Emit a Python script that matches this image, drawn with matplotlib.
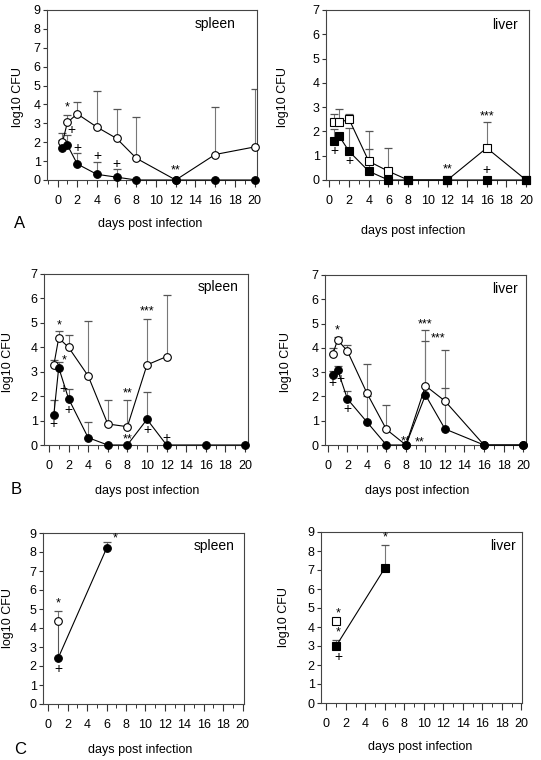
import numpy as np
import matplotlib.pyplot as plt
from matplotlib.ticker import MultipleLocator

plt.rcParams['font.family'] = ['Liberation Sans', 'DejaVu Sans']

W, H = 541, 760

# ---- data (log10 CFU) ----
days = [0.5, 1, 2, 4, 6, 8, 12, 16, 20]

# A spleen
a_spl_open = [2.0, 3.05, 3.5, 2.8, 2.2, 1.15, 0, 1.35, 1.75]
a_spl_open_top = [2.5, 3.45, 4.15, 4.7, 3.75, 3.35, None, 3.85, 4.8]
a_spl_fill = [1.7, 1.85, 0.85, 0.3, 0.15, 0, 0, 0, 0]
a_spl_fill_top = [2.1, 2.4, 1.43, 0.95, 0.6, None, None, None, None]

# A liver
a_liv_open = [2.4, 2.37, 2.5, 0.77, 0.36, 0, 0, 1.32, 0]
a_liv_open_top = [2.7, 2.93, 2.7, 2.0, 1.3, None, None, 2.4, None]
a_liv_fill = [1.6, 1.8, 1.18, 0.36, 0, 0, 0, 0, 0]
a_liv_fill_top = [2.1, None, 2.13, 1.28, None, None, None, None, None]

# B
days_b_open = [0.5, 1, 2, 4, 6, 8, 10, 12]
days_b = [0.5, 1, 2, 4, 6, 8, 10, 12, 16, 20]
b_spl_open = [3.27, 4.38, 4.0, 2.83, 0.86, 0.75, 3.28, 3.62]
b_spl_open_top = [3.5, 4.68, 4.5, 5.07, 1.83, 1.85, 5.17, 6.12]
b_spl_fill = [1.23, 3.17, 1.9, 0.3, 0, 0, 1.05, 0, 0, 0]
b_spl_fill_top = [1.85, 3.4, 2.3, 0.95, None, None, 2.15, None, None, None]

days_bl_open = [0.5, 1, 2, 4, 6, 8, 10, 12, 16, 20]
b_liv_open = [3.73, 4.33, 3.87, 2.14, 0.64, 0, 2.44, 1.81, 0, 0]
b_liv_open_top = [4.0, 4.45, 4.1, 3.35, 1.63, None, 4.73, 3.93, None, None]
b_liv_fill = [2.9, 3.1, 1.9, 0.95, 0, 0, 2.06, 0.66, 0, 0]
b_liv_fill_top = [3.05, 3.25, 2.22, 2.0, None, None, 4.3, 2.35, None, None]

# C
days_c_open = [1]
days_c = [1, 6]
c_spl_open = [4.35]
c_spl_open_top = [4.9]
c_spl_fill = [2.4, 8.2]
c_spl_fill_top = [None, 8.55]

c_liv_open = [4.3]
c_liv_fill = [3.0, 7.1]
c_liv_fill_top = [3.3, 8.33]

# significance marks (day, log10 CFU, mark)
a_spl_marks = [(1, 3.85, '*'), (1.45, 2.65, '+'), (2, 1.7, '+'), (4, 1.25, '+'),
               (6, 0.85, '+'), (12, 0.5, '**')]
a_liv_marks = [(0.5, 1.2, '+'), (2, 0.8, '+'), (16, 0.4, '+'), (12, 0.45, '**'),
               (16, 2.6, '***')]
b_spl_marks = [(1, 4.9, '*'), (1.55, 3.45, '*'), (0.5, 0.85, '+'), (1.5, 2.3, '+'),
               (2, 1.45, '+'), (10, 0.6, '+'), (12, 0.3, '+'), (8, 2.1, '**'),
               (8, 0.22, '**'), (10, 5.45, '***')]
b_liv_marks = [(1, 4.7, '*'), (0.5, 2.55, '+'), (1.3, 2.72, '+'), (2, 1.5, '+'),
               (8, 0.15, '**'), (9.4, 0.1, '**'), (10, 4.98, '***'), (11.3, 4.4, '***')]
c_spl_marks = [(1, 5.3, '*'), (1, 1.85, '+'), (6.9, 8.7, '*')]
c_liv_marks = [(1.2, 4.7, '*'), (1.2, 3.7, '*'), (1.2, 2.4, '+'), (6, 8.7, '*')]

fig = plt.figure(figsize=(W / 100, H / 100), dpi=100)


def add_ax(l, t, r, b):
    return fig.add_axes([l / W, 1 - b / H, (r - l) / W, (b - t) / H])


def ftext(x, y, s, **kw):
    fig.text(x / W, 1 - y / H, s, **kw)


def errs(ax, x, top, y):
    xs = [xi for xi, ti in zip(x, top) if ti is not None]
    ys = [yi for yi, ti in zip(y, top) if ti is not None]
    ts = [ti for ti in top if ti is not None]
    ax.vlines(xs, ys, ts, color='#777777', lw=0.8, zorder=2)
    ax.plot(xs, ts, ls='none', marker='_', ms=6, mew=0.9, color='#555555', zorder=2)


def series(ax, x, y, marker, filled):
    ax.plot(x, y, color='black', lw=0.8, marker=marker, ms=5.5 if marker == 'o' else 5.2,
            mfc='black' if filled else 'white', mec='black', mew=0.8,
            clip_on=False, zorder=4 if filled else 3)


def style(ax, ymax, xlim, organ, tx, ty):
    ax.set_xlim(*xlim)
    ax.set_ylim(0, ymax)
    ax.xaxis.set_major_locator(MultipleLocator(2))
    ax.xaxis.set_minor_locator(MultipleLocator(1))
    ax.yaxis.set_major_locator(MultipleLocator(1))
    ax.tick_params(axis='x', which='major', length=5, width=0.8, pad=6, labelsize=9,
                   colors='#333333', labelcolor='black')
    ax.tick_params(axis='x', which='minor', length=3, width=0.7, colors='#333333')
    ax.tick_params(axis='y', length=3, width=0.8, pad=1.5, labelsize=9, colors='#333333',
                   labelcolor='black')
    for s in ax.spines.values():
        s.set_color('#444444')
        s.set_linewidth(0.8)
    ftext(tx, ty, organ, ha='right', va='center', fontsize=10)


def marks(ax, m):
    for x, y, s in m:
        ax.text(x, y, s, ha='center', va='center', fontsize=9 if s != '+' else 10,
                zorder=5)


def ylab(x, y):
    ftext(x, y, 'log10 CFU', rotation=90, ha='center', va='center', fontsize=9)


def xlab(x, y):
    ftext(x, y, 'days post infection', ha='center', va='center', fontsize=9)


# A spleen
ax = add_ax(47, 10, 257, 180)
errs(ax, days, a_spl_open_top, a_spl_open)
errs(ax, days, a_spl_fill_top, a_spl_fill)
series(ax, days, a_spl_open, 'o', False)
series(ax, days, a_spl_fill, 'o', True)
marks(ax, a_spl_marks)
style(ax, 9, (-1.07, 20.25), 'spleen', 236, 24)
ylab(18, 97)
xlab(150, 224)
ftext(20, 224, 'A', ha='center', va='center', fontsize=12)

# A liver
ax = add_ax(326, 10, 529, 180)
errs(ax, days, a_liv_open_top, a_liv_open)
errs(ax, days, a_liv_fill_top, a_liv_fill)
series(ax, days, a_liv_open, 's', False)
series(ax, days, a_liv_fill, 's', True)
marks(ax, a_liv_marks)
style(ax, 7, (-0.35, 20.3), 'liver', 518, 25)
ylab(283, 97)
xlab(413, 231)

# B spleen
ax = add_ax(44, 274, 248, 445)
errs(ax, days_b_open, b_spl_open_top, b_spl_open)
errs(ax, days_b, b_spl_fill_top, b_spl_fill)
series(ax, days_b_open, b_spl_open, 'o', False)
series(ax, days_b, b_spl_fill, 'o', True)
marks(ax, b_spl_marks)
style(ax, 7, (-0.5, 20.3), 'spleen', 239, 287)
ylab(8, 362)
xlab(147, 491)
ftext(16, 490, 'B', ha='center', va='center', fontsize=12)

# B liver
ax = add_ax(325, 275, 526, 445)
errs(ax, days_bl_open, b_liv_open_top, b_liv_open)
errs(ax, days_b, b_liv_fill_top, b_liv_fill)
series(ax, days_bl_open, b_liv_open, 'o', False)
series(ax, days_b, b_liv_fill, 'o', True)
marks(ax, b_liv_marks)
style(ax, 7, (-0.29, 20.3), 'liver', 518, 289)
ylab(286, 362)
xlab(417, 491)

# C spleen
ax = add_ax(43, 533, 244, 704)
ax.vlines(days_c_open, [c_spl_fill[0]], c_spl_open, color='#555555', lw=0.8, zorder=2)
errs(ax, days_c_open, c_spl_open_top, c_spl_open)
errs(ax, days_c, c_spl_fill_top, c_spl_fill)
series(ax, days_c_open, c_spl_open, 'o', False)
series(ax, days_c, c_spl_fill, 'o', True)
marks(ax, c_spl_marks)
style(ax, 9, (-0.55, 20.15), 'spleen', 235, 546)
ylab(8, 618)
xlab(140, 750)
ftext(20, 749, 'C', ha='center', va='center', fontsize=12)

# C liver
ax = add_ax(321, 532, 522, 703)
errs(ax, days_c, c_liv_fill_top, c_liv_fill)
series(ax, days_c_open, c_liv_open, 's', False)
series(ax, days_c, c_liv_fill, 's', True)
marks(ax, c_liv_marks)
style(ax, 9, (-0.55, 20.07), 'liver', 516, 546)
ylab(284, 617)
xlab(420, 747)

fig.savefig('out.png', dpi=100)
